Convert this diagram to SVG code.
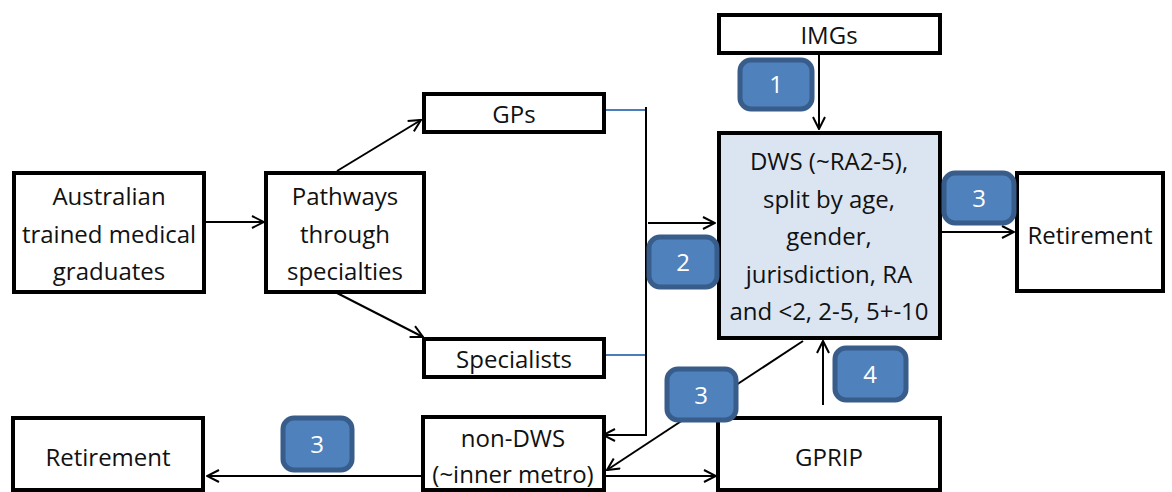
<svg xmlns="http://www.w3.org/2000/svg" width="1172" height="492" viewBox="0 0 1172 492">
<style>
.box{fill:#ffffff;stroke:#000;stroke-width:4}
.dws{fill:#dbe5f1;stroke:#000;stroke-width:4}
.t{font-family:"Open Sans","Liberation Sans",sans-serif;font-size:24px;fill:#111;text-anchor:middle}
.ln{fill:none;stroke:#000;stroke-width:2}
.bl{fill:none;stroke:#4a7ebb;stroke-width:2}
.badge{fill:#4f81bd;stroke:#385d8a;stroke-width:5}
.bt{font-family:"Open Sans","Liberation Sans",sans-serif;font-size:24px;fill:#fff;text-anchor:middle}
</style>
<defs>
<marker id="ah" viewBox="0 0 14 14" refX="13" refY="7" markerWidth="14" markerHeight="14" markerUnits="userSpaceOnUse" orient="auto">
<path d="M1,1 L13,7 L1,13" fill="none" stroke="#000" stroke-width="2"/>
</marker>
</defs>
<rect width="1172" height="492" fill="#fff"/>
<g id="connectors">
<line class="ln" x1="206" y1="222" x2="264" y2="222" marker-end="url(#ah)"/>
<line class="ln" x1="337" y1="171" x2="421" y2="120" marker-end="url(#ah)"/>
<line class="ln" x1="337" y1="293" x2="423" y2="337" marker-end="url(#ah)"/>
<line class="bl" x1="604" y1="110" x2="646" y2="110"/>
<line class="bl" x1="604" y1="355" x2="646" y2="355"/>
<polyline class="ln" points="646,107 646,435 603,435" marker-end="url(#ah)"/>
<line class="ln" x1="648" y1="223" x2="715" y2="223" marker-end="url(#ah)"/>
<line class="ln" x1="819" y1="54" x2="819" y2="129" marker-end="url(#ah)"/>
<line class="ln" x1="942" y1="232" x2="1014" y2="232" marker-end="url(#ah)"/>
<line class="ln" x1="803" y1="341" x2="607" y2="470" marker-end="url(#ah)"/>
<line class="ln" x1="823" y1="405" x2="823" y2="341" marker-end="url(#ah)"/>
<line class="ln" x1="606" y1="476" x2="716" y2="476" marker-end="url(#ah)"/>
<line class="ln" x1="421" y1="476" x2="207" y2="476" marker-end="url(#ah)"/>
</g>
<g id="australian">
<rect class="box" x="14" y="173" width="190" height="119"/>
<text class="t" x="109" y="205">Australian</text>
<text class="t" x="109" y="243">trained medical</text>
<text class="t" x="109" y="280">graduates</text>
</g>
<g id="pathways">
<rect class="box" x="266" y="173" width="158" height="119"/>
<text class="t" x="345" y="205">Pathways</text>
<text class="t" x="345" y="243">through</text>
<text class="t" x="345" y="280">specialties</text>
</g>
<g id="gps">
<rect class="box" x="424" y="94" width="180" height="38"/>
<text class="t" x="514" y="123">GPs</text>
</g>
<g id="specialists">
<rect class="box" x="424" y="339" width="180" height="38"/>
<text class="t" x="514" y="368">Specialists</text>
</g>
<g id="imgs">
<rect class="box" x="719" y="15" width="221" height="38"/>
<text class="t" x="829" y="44">IMGs</text>
</g>
<g id="dws">
<rect class="dws" x="719" y="133" width="221" height="205"/>
<text class="t" x="829" y="170">DWS (~RA2-5),</text>
<text class="t" x="829" y="208">split by age,</text>
<text class="t" x="829" y="245">gender,</text>
<text class="t" x="829" y="283">jurisdiction, RA</text>
<text class="t" x="829" y="320">and &lt;2, 2-5, 5+-10</text>
</g>
<g id="retirement-right">
<rect class="box" x="1017" y="173" width="146" height="118"/>
<text class="t" x="1090" y="244">Retirement</text>
</g>
<g id="non-dws">
<rect class="box" x="423" y="417" width="181" height="73"/>
<text class="t" x="513" y="447">non-DWS</text>
<text class="t" x="513" y="483">(~inner metro)</text>
</g>
<g id="gprip">
<rect class="box" x="718" y="418" width="222" height="72"/>
<text class="t" x="829" y="466">GPRIP</text>
</g>
<g id="retirement-left">
<rect class="box" x="13" y="418" width="190" height="72"/>
<text class="t" x="108" y="466">Retirement</text>
</g>
<g id="badges">
<g id="badge1"><rect class="badge" x="740" y="60" width="72" height="49" rx="11"/><text class="bt" x="776" y="93">1</text></g>
<g id="badge2"><rect class="badge" x="649" y="237" width="68" height="50" rx="11"/><text class="bt" x="683" y="271">2</text></g>
<g id="badge3-right"><rect class="badge" x="944" y="173" width="70" height="50" rx="11"/><text class="bt" x="979" y="207">3</text></g>
<g id="badge3-mid"><rect class="badge" x="667" y="369" width="69" height="51" rx="11"/><text class="bt" x="701" y="404">3</text></g>
<g id="badge4"><rect class="badge" x="835" y="348" width="71" height="52" rx="11"/><text class="bt" x="870" y="383">4</text></g>
<g id="badge3-left"><rect class="badge" x="283" y="418" width="69" height="52" rx="11"/><text class="bt" x="317" y="453">3</text></g>
</g>
</svg>
